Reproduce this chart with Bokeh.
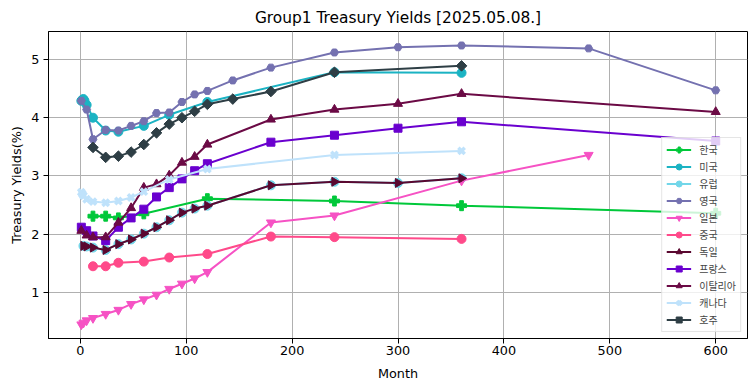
import math
from bokeh.plotting import figure
from bokeh.models import Legend, LegendItem, FixedTicker, Range1d
from bokeh.embed import file_html
from bokeh.resources import INLINE

# ---- data ----
kr_m = [12, 24, 36, 60, 120, 240, 360, 600]
kr_v = [2.31, 2.31, 2.28, 2.35, 2.61, 2.57, 2.49, 2.36]

us_m = [1, 2, 3, 4, 6, 12, 24, 36, 60, 84, 120, 240, 360]
us_v = [4.29, 4.31, 4.32, 4.29, 4.22, 4.00, 3.78, 3.76, 3.86, 4.05, 4.27, 4.78, 4.77]

eu_m = [3, 6, 12, 24, 36, 48, 60, 72, 84, 96, 108, 120, 180, 240, 300, 360]
eu_v = [1.80, 1.79, 1.77, 1.73, 1.83, 1.91, 2.01, 2.12, 2.24, 2.37, 2.44, 2.49, 2.84, 2.90, 2.88, 2.96]

uk_m = [1, 6, 12, 24, 36, 48, 60, 72, 84, 96, 108, 120, 144, 180, 240, 300, 360, 480, 600]
uk_v = [4.29, 4.14, 3.63, 3.79, 3.78, 3.86, 3.94, 4.08, 4.09, 4.27, 4.40, 4.46, 4.64, 4.86, 5.12, 5.21, 5.24, 5.19, 4.47]

jp_m = [1, 3, 6, 12, 24, 36, 48, 60, 72, 84, 96, 108, 120, 180, 240, 360, 480]
jp_v = [0.45, 0.48, 0.52, 0.56, 0.63, 0.70, 0.80, 0.88, 0.96, 1.06, 1.15, 1.24, 1.35, 2.20, 2.32, 2.92, 3.36]

cn_m = [12, 24, 36, 60, 84, 120, 180, 240, 360]
cn_v = [1.45, 1.45, 1.51, 1.53, 1.60, 1.66, 1.96, 1.95, 1.92]

de_m = [3, 6, 12, 24, 36, 48, 60, 72, 84, 96, 108, 120, 180, 240, 300, 360]
de_v = [1.80, 1.79, 1.77, 1.73, 1.83, 1.91, 2.01, 2.12, 2.24, 2.37, 2.44, 2.49, 2.84, 2.90, 2.88, 2.96]

fr_m = [1, 6, 12, 24, 36, 48, 60, 72, 84, 96, 108, 120, 180, 240, 300, 360, 600]
fr_v = [2.12, 2.06, 1.97, 1.89, 2.12, 2.28, 2.43, 2.64, 2.80, 2.95, 3.09, 3.21, 3.58, 3.70, 3.82, 3.93, 3.60]

it_m = [1, 6, 12, 24, 36, 48, 60, 72, 84, 96, 108, 120, 180, 240, 300, 360, 600]
it_v = [2.06, 1.98, 1.95, 1.95, 2.20, 2.45, 2.80, 2.86, 3.01, 3.23, 3.33, 3.54, 3.97, 4.14, 4.24, 4.41, 4.10]

ca_m = [1, 2, 3, 6, 12, 24, 36, 48, 60, 84, 120, 240, 360]
ca_v = [2.72, 2.69, 2.66, 2.60, 2.56, 2.54, 2.57, 2.63, 2.73, 2.94, 3.12, 3.36, 3.43]

au_m = [12, 24, 36, 48, 60, 72, 84, 96, 108, 120, 144, 180, 240, 360]
au_v = [3.49, 3.32, 3.34, 3.41, 3.54, 3.74, 3.89, 4.00, 4.11, 4.23, 4.32, 4.45, 4.78, 4.89]

names = ["한국", "미국", "유럽", "영국", "일본", "중국", "독일", "프랑스", "이탈리아", "캐나다", "호주"]
x_ticks = [0, 100, 200, 300, 400, 500, 600]
y_ticks = [1, 2, 3, 4, 5]

series = [
    (kr_m, kr_v, "#00c83a", "plus", 10, 0.0, 1),
    (us_m, us_v, "#1bb3c3", "circle", 9, 0.0, 1),
    (eu_m, eu_v, "#72d6e9", "circle", 9, 0.0, 1),
    (uk_m, uk_v, "#7471b0", "hex", 8, 0.0, 1),
    (jp_m, jp_v, "#f652c4", "inverted_triangle", 9, 0.0, 1),
    (cn_m, cn_v, "#ff4a8a", "circle", 9, 0.0, 1),
    (de_m, de_v, "#5a0830", "triangle", 9, -math.pi / 2, 1),
    (fr_m, fr_v, "#6a00cf", "square", 8, 0.0, 1),
    (it_m, it_v, "#6b0a45", "triangle", 9, 0.0, 1),
    (ca_m, ca_v, "#bfe2fb", "x", 9, 0.0, 3.5),
    (au_m, au_v, "#2e3e45", "square", 7.5, math.pi / 4, 1),
]

p = figure(
    width=754, height=390,
    min_border_left=48, min_border_right=7, min_border_top=31, min_border_bottom=52,
    x_range=Range1d(-30, 630), y_range=Range1d(0.21, 5.48),
    output_backend="svg", toolbar_location=None,
    title="Group1 Treasury Yields [2025.05.08.]",
)
p.title.align = "center"
p.title.text_font = "DejaVu Sans"
p.title.text_font_size = "15.4px"
p.title.text_font_style = "normal"
p.title.text_color = "#000000"

p.outline_line_color = "black"
p.outline_line_width = 1
p.background_fill_color = "white"
p.border_fill_color = "white"

p.xaxis.ticker = FixedTicker(ticks=x_ticks)
p.yaxis.ticker = FixedTicker(ticks=y_ticks)
for ax in (p.xaxis[0], p.yaxis[0]):
    ax.axis_line_color = "black"
    ax.major_tick_out = 5
    ax.major_tick_in = 0
    ax.minor_tick_out = 0
    ax.minor_tick_in = 0
    ax.major_label_text_font = "DejaVu Sans"
    ax.major_label_text_font_size = "12.8px"
    ax.major_label_text_color = "#000000"
    ax.axis_label_text_font = "DejaVu Sans"
    ax.axis_label_text_font_size = "12.8px"
    ax.axis_label_text_font_style = "normal"
    ax.axis_label_text_color = "#000000"
p.xaxis.axis_label = "Month"
p.yaxis.axis_label = "Treasury Yields(%)"
p.xaxis.major_label_standoff = 2
p.yaxis.major_label_standoff = 4
p.xaxis.axis_label_standoff = 8
p.yaxis.axis_label_standoff = 4

p.grid.grid_line_color = "#b0b0b0"
p.grid.grid_line_width = 1

items = []
for (m, v, col, mk, sz, ang, lw), nm in zip(series, names):
    r1 = p.line(m, v, line_color=col, line_width=2)
    r2 = p.scatter(m, v, marker=mk, size=sz, angle=ang, fill_color=col, line_color=col, line_width=lw)
    items.append(LegendItem(label=nm, renderers=[r1, r2]))

legend = Legend(items=items, location="bottom_right")
legend.label_text_font = "Noto Sans CJK KR"
legend.label_text_font_size = "10px"
legend.label_height = 15
legend.glyph_height = 15
legend.glyph_width = 25
legend.spacing = 2
legend.padding = 4
legend.margin = 6
legend.label_standoff = 8
legend.border_line_color = "#cccccc"
legend.background_fill_alpha = 0.8
p.add_layout(legend)

open("out.html", "w").write(file_html(p, INLINE))
